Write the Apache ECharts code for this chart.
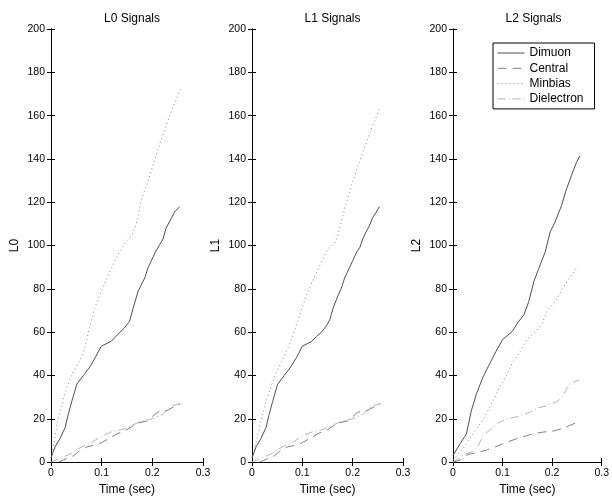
<!DOCTYPE html>
<html>
<head>
<meta charset="utf-8">
<script src="https://cdn.jsdelivr.net/npm/echarts@6/dist/echarts.min.js"></script>
<style>
html,body{margin:0;padding:0;background:#fff;}
#chart{width:612px;height:501px;}
</style>
</head>
<body>
<div id="chart"></div>
<script>
// ---- data ----
const seriesNames = ['Dimuon', 'Central', 'Minbias', 'Dielectron'];
const panelTitles = ['L0 Signals', 'L1 Signals', 'L2 Signals'];
const yAxisNames = ['L0', 'L1', 'L2'];
const xTickValues = [0, 0.1, 0.2, 0.3];
const yTickValues = [0, 20, 40, 60, 80, 100, 120, 140, 160, 180, 200];

const l0Dimuon = [[0,2],[0.008,7],[0.018,11],[0.028,16],[0.034,22],[0.041,28],[0.051,36],[0.064,40],[0.077,44],[0.089,49],[0.099,53.5],[0.119,55.8],[0.132,59],[0.145,62],[0.155,65],[0.162,71],[0.172,79],[0.185,85],[0.191,89.4],[0.206,97],[0.221,103],[0.227,108],[0.244,115.5],[0.254,118]];
const l0Central = [[0.015,0],[0.03,1.5],[0.045,3],[0.055,5],[0.07,7],[0.09,8],[0.1,9],[0.115,11],[0.13,13],[0.15,15],[0.17,18],[0.19,19],[0.2,21],[0.21,23],[0.23,24],[0.255,27]];
const l0Minbias = [[0,2],[0.005,8],[0.014,20],[0.025,30],[0.04,40],[0.05,44],[0.063,50],[0.07,56],[0.076,62],[0.086,71],[0.096,77],[0.109,84],[0.122,91],[0.135,97],[0.149,102],[0.16,105],[0.165,108],[0.172,113],[0.177,120],[0.196,133],[0.216,148],[0.236,161],[0.255,172]];
const l0Dielectron = [[0,0],[0.02,2],[0.04,4],[0.06,7],[0.08,9],[0.1,12],[0.12,14],[0.14,15],[0.16,17],[0.18,19],[0.2,20],[0.22,22],[0.24,26],[0.255,27]];

const l1Dimuon = [[0,2],[0.008,7],[0.018,11],[0.028,16],[0.034,22],[0.041,28],[0.051,36],[0.064,40],[0.077,44],[0.089,48.5],[0.1,53.5],[0.119,55.8],[0.128,58],[0.138,60],[0.148,63],[0.155,66],[0.161,71],[0.171,77],[0.177,80],[0.184,85],[0.194,90],[0.2,93],[0.208,97],[0.214,99],[0.22,103],[0.227,106.5],[0.233,109],[0.24,113],[0.247,115.5],[0.253,118]];
const l1Central = [[0.015,0],[0.03,1.5],[0.045,3],[0.055,5],[0.07,7],[0.09,8],[0.1,9],[0.115,11],[0.13,13],[0.15,15],[0.17,18],[0.19,19],[0.2,21],[0.21,23],[0.23,24],[0.255,27]];
const l1Minbias = [[0,2],[0.005,6],[0.016,17],[0.029,29],[0.044,39],[0.062,48],[0.072,53],[0.082,59],[0.095,68],[0.108,77],[0.125,86],[0.138,92.5],[0.151,98.6],[0.164,101],[0.171,105],[0.184,117],[0.198,128],[0.214,139],[0.234,152],[0.253,163]];
const l1Dielectron = [[0,0],[0.02,2],[0.04,4],[0.06,7],[0.08,9],[0.1,12],[0.12,14],[0.14,15],[0.16,17],[0.18,19],[0.2,20],[0.22,22],[0.24,26],[0.255,27]];

const l2Dimuon = [[0,3],[0.014,8.4],[0.027,13],[0.037,23.7],[0.047,31.3],[0.06,39],[0.073,45],[0.087,51.2],[0.1,56.6],[0.12,60.4],[0.13,64.2],[0.143,68],[0.153,74.2],[0.163,83.3],[0.173,89.4],[0.186,97.1],[0.196,106.3],[0.206,110.9],[0.219,118.5],[0.229,126.1],[0.239,132.3],[0.249,138.4],[0.256,141.4]];
const l2Central = [[0,0],[0.015,1],[0.03,3.5],[0.05,4.5],[0.067,5.5],[0.085,7],[0.1,8.4],[0.127,10.7],[0.16,13],[0.18,13.8],[0.206,14.5],[0.226,16],[0.25,18.3]];
const l2Minbias = [[0,1],[0.02,6],[0.04,13],[0.062,20],[0.08,28],[0.095,35],[0.108,40],[0.12,46],[0.133,50],[0.15,57],[0.166,60],[0.18,64],[0.19,70],[0.206,74],[0.226,82],[0.25,90]];
const l2Dielectron = [[0,0],[0.02,3],[0.04,5],[0.05,7],[0.06,12],[0.07,14],[0.09,18],[0.11,20],[0.13,21],[0.155,23],[0.17,25],[0.19,26],[0.21,28],[0.22,30],[0.235,36],[0.255,38]];

const panelData = [
  [l0Dimuon, l0Central, l0Minbias, l0Dielectron],
  [l1Dimuon, l1Central, l1Minbias, l1Dielectron],
  [l2Dimuon, l2Central, l2Minbias, l2Dielectron]
];

// ---- styles ----
const FONT = 'Liberation Sans, Arial, Helvetica, sans-serif';
const lineStyles = [
  {color: '#505050', width: 1, type: 'solid'},
  {color: '#808080', width: 1, type: [9, 6]},
  {color: '#8a8a8a', width: 1, type: [1, 3]},
  {color: '#b4b4b4', width: 1, type: [8, 3, 1, 3]}
];
const gridLefts = [51, 252, 453];
const gridWidths = [152, 151, 151];

const grids = [], xAxes = [], yAxes = [], series = [], titles = [];
const axisLineStyle = {lineStyle: {color: '#000', width: 1}};
for (let p = 0; p < 3; p++) {
  grids.push({left: gridLefts[p], width: gridWidths[p], top: 29, height: 436, containLabel: false});
  titles.push({
    text: panelTitles[p], left: gridLefts[p] + gridWidths[p] / 2, top: 8, textAlign: 'center',
    textStyle: {fontFamily: FONT, fontSize: 12, fontWeight: 'normal', color: '#000'}
  });
  xAxes.push({
    type: 'value', gridIndex: p, position: 'bottom', min: xTickValues[0], max: xTickValues[xTickValues.length - 1], interval: 0.1,
    name: 'Time (sec)', nameLocation: 'middle', nameGap: 19,
    nameTextStyle: {fontFamily: FONT, fontSize: 12, color: '#000'},
    axisLine: axisLineStyle, axisTick: {inside: true, length: 4, lineStyle: {color: '#000'}},
    axisLabel: {fontFamily: FONT, fontSize: 10.5, color: '#000', margin: 6, formatter: v => String(+v.toFixed(1))},
    splitLine: {show: false}
  });
  xAxes.push({
    type: 'value', gridIndex: p, position: 'top', min: 0, max: 0.3, interval: 0.1,
    axisLine: axisLineStyle, axisTick: {inside: true, length: 4, lineStyle: {color: '#000'}},
    axisLabel: {show: false}, splitLine: {show: false}
  });
  yAxes.push({
    type: 'value', gridIndex: p, position: 'left', min: yTickValues[0], max: yTickValues[yTickValues.length - 1], interval: 20,
    name: yAxisNames[p], nameLocation: 'middle', nameGap: 30, nameRotate: 90,
    nameTextStyle: {fontFamily: FONT, fontSize: 12, color: '#000'},
    axisLine: axisLineStyle, axisTick: {inside: true, length: 4, lineStyle: {color: '#000'}},
    axisLabel: {fontFamily: FONT, fontSize: 10.5, color: '#000', margin: 6},
    splitLine: {show: false}
  });
  yAxes.push({
    type: 'value', gridIndex: p, position: 'right', min: 0, max: 200, interval: 20,
    axisLine: axisLineStyle, axisTick: {inside: true, length: 4, lineStyle: {color: '#000'}},
    axisLabel: {show: false}, splitLine: {show: false}
  });
  for (let s = 0; s < 4; s++) {
    series.push({
      name: seriesNames[s], type: 'line', xAxisIndex: p * 2, yAxisIndex: p * 2,
      data: panelData[p][s], symbol: 'none', showSymbol: false,
      lineStyle: lineStyles[s], itemStyle: {color: lineStyles[s].color},
      z: 10 - s, silent: true
    });
  }
}

const chart = echarts.init(document.getElementById('chart'), null, {renderer: 'canvas'});
chart.setOption({
  animation: false,
  backgroundColor: '#fff',
  title: titles,
  grid: grids,
  xAxis: xAxes,
  yAxis: yAxes,
  legend: {
    data: seriesNames, orient: 'vertical', left: 493, top: 43,
    itemWidth: 27, itemHeight: 11, itemGap: 3.3,
    borderColor: '#000', borderWidth: 1, borderRadius: 0, padding: [4, 11, 4, 4],
    backgroundColor: '#fff',
    itemStyle: {opacity: 0},
    lineStyle: {width: 1},
    textStyle: {fontFamily: FONT, fontSize: 12, color: '#000'},
    selectedMode: false
  },
  series: series
});
</script>
</body>
</html>
